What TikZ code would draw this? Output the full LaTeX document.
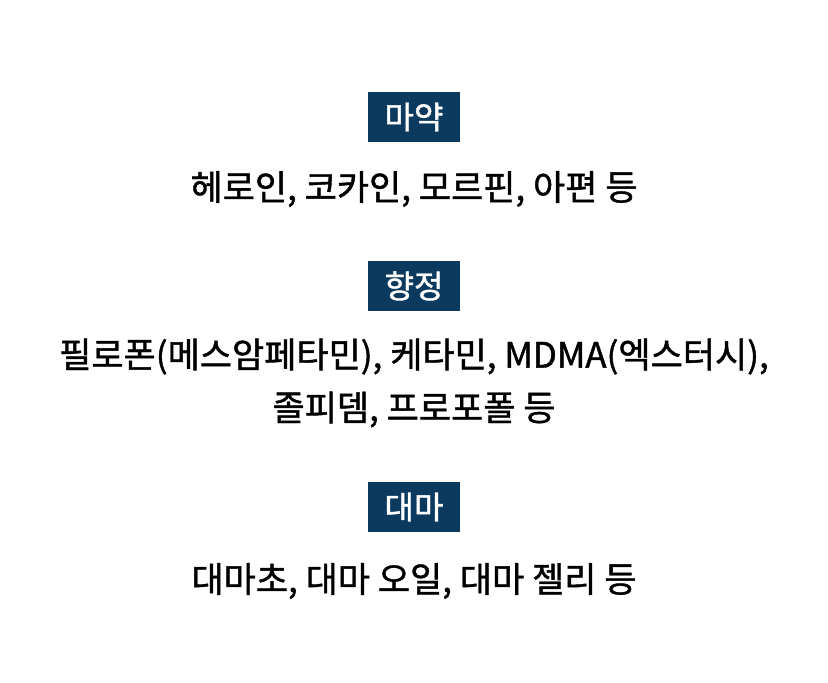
\documentclass[tikz,border=0pt]{standalone}
\usepackage{fontspec}
\setmainfont{Noto Sans CJK KR}[FakeBold=1.2,BoldFont={Noto Sans CJK KR}]
\definecolor{navy}{HTML}{0B3A5E}
\begin{document}
\begin{tikzpicture}[x=1pt,y=1pt,
  tag/.style={fill=navy,text=white,font=\fontsize{32}{36}\bfseries,minimum width=92pt,minimum height=50pt,inner sep=0pt},
  body/.style={font=\fontsize{35}{53}\bfseries,align=center,text=black}]
\useasboundingbox (0,0) rectangle (828,683);
\node[tag] (t1) at (414,566) {마약};
\node[body] (b1) at (414,494) {헤로인, 코카인, 모르핀, 아편 등};
\node[tag] (t2) at (414,397) {향정};
\node[body] (b2) at (414,300) {필로폰(메스암페타민), 케타민, MDMA(엑스터시),\\졸피뎀, 프로포폴 등};
\node[tag] (t3) at (414,176) {대마};
\node[body] (b3) at (414,102) {대마초, 대마 오일, 대마 젤리 등};
\end{tikzpicture}
\end{document}
